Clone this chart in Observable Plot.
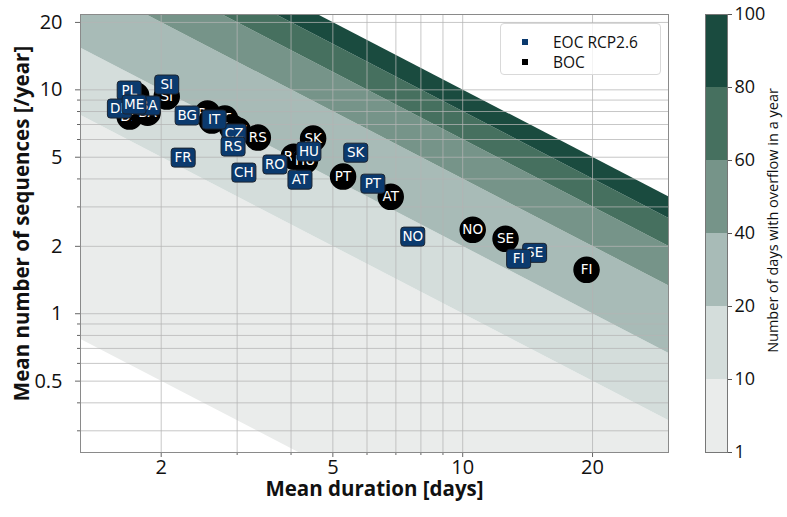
<!DOCTYPE html>
<html>
<head>
<meta charset="utf-8">
<script src="https://cdn.jsdelivr.net/npm/d3@7"></script>
<script src="https://cdn.jsdelivr.net/npm/@observablehq/plot@0.6"></script>
<style>
  body { margin: 0; background: white; }
  #wrap { position: relative; width: 787px; height: 517px; display: flex; flex-direction: row; }
  #legend { position: absolute; left: 500px; top: 23px; width: 159px; height: 50px; border: 1px solid #d9d9d9; border-radius: 4px; background: rgba(255,255,255,0.8); font-family: "Open Sans", sans-serif; font-size: 15.5px; color: #111; }
  .lrow { position: absolute; left: 0; height: 20px; line-height: 20px; }
  .lmark { position: absolute; left: 21px; top: 7px; width: 6px; height: 6px; }
  .ltext { position: absolute; left: 52px; top: 0; white-space: nowrap; }
</style>
</head>
<body>
<div id="wrap">
  <div id="main"></div>
  <div id="cbar"></div>
  <div id="legend">
    <div class="lrow" style="top:8px"><div class="lmark" style="background:#0b3a6e"></div><div class="ltext">EOC RCP2.6</div></div>
    <div class="lrow" style="top:28px"><div class="lmark" style="background:#000"></div><div class="ltext">BOC</div></div>
  </div>
</div>
<script>
// ---- Data ----
// BOC (black circles)
const bocCountry  = ["DE","PL","ME","BA","SI","BG","FR","IT","CH","CZ","RS","RO","HU","SK","PT","AT","NO","SE","FI"];
const bocDuration = [1.69,1.75,1.79,1.86,2.06,2.56,2.62,2.81,2.92,3.01,3.35,4.06,4.31,4.50,5.28,6.81,10.55,12.57,19.37];
const bocSequences= [7.60,9.43,8.08,7.91,9.33,7.83,7.29,7.44,6.78,6.58,6.12,5.03,4.83,6.06,4.10,3.33,2.37,2.16,1.57];

// EOC RCP2.6 (blue rounded squares)
const eocCountry  = ["FR","CH","CZ","RS","SI","PL","DE","BA","ME","BG","IT","RO","AT","HU","SK","PT","NO","SE","FI"];
const eocDuration = [2.249,3.11,2.951,2.935,2.06,1.686,1.60,1.866,1.731,2.297,2.653,3.67,4.195,4.40,5.65,6.19,7.66,14.68,13.48];
const eocSequences= [4.98,4.27,6.38,5.58,10.56,9.93,8.25,8.51,8.60,7.68,7.37,4.64,3.97,5.30,5.24,3.81,2.21,1.87,1.76];

// Background bands: days with overflow per year = sequences * duration
const bandThresholds = [1, 10, 20, 40, 60, 80, 100];
const bandColors = ["#eaeceb", "#d4dddb", "#a8bbb7", "#769489", "#46705f", "#1a4b3f"];

// Axes
const xDomain = [1.3, 30];
const yDomain = [0.24, 21.7];
const xMajor = [2, 5, 10, 20];
const xGrid  = [2, 3, 4, 5, 6, 7, 8, 9, 10, 20];
const yMajor = [0.5, 1, 2, 5, 10, 20];
const yGrid  = [0.3, 0.4, 0.5, 0.6, 0.7, 0.8, 0.9, 1, 2, 3, 4, 5, 6, 7, 8, 9, 10, 20];

// ---- Marks ----
const roundRect = {
  draw(ctx) {
    const w = 12, h = 9.5, r = 3;
    ctx.moveTo(-w + r, -h);
    ctx.lineTo(w - r, -h);
    ctx.arcTo(w, -h, w, -h + r, r);
    ctx.lineTo(w, h - r);
    ctx.arcTo(w, h, w - r, h, r);
    ctx.lineTo(-w + r, h);
    ctx.arcTo(-w, h, -w, h - r, r);
    ctx.lineTo(-w, -h + r);
    ctx.arcTo(-w, -h, -w + r, -h, r);
    ctx.closePath();
  }
};

const marks = [];
// bands
for (let i = 0; i < bandColors.length; i++) {
  const lo = bandThresholds[i], hi = bandThresholds[i + 1];
  marks.push(Plot.areaY(xDomain, {x: d => d, y1: d => lo / d, y2: d => hi / d, fill: bandColors[i], clip: true}));
}
// grid
marks.push(Plot.gridX(xGrid, {stroke: "#b4b4b4", strokeOpacity: 0.75, strokeWidth: 1}));
marks.push(Plot.gridY(yGrid, {stroke: "#b4b4b4", strokeOpacity: 0.75, strokeWidth: 1}));
// axes
marks.push(Plot.axisX(xMajor, {tickSize: 5, tickPadding: 2, fontSize: 20, tickFormat: d => String(d), label: null, stroke: "#666"}));
marks.push(Plot.axisX(xGrid.filter(d => !xMajor.includes(d)), {tickSize: 3, tickFormat: () => "", label: null, stroke: "#666"}));
marks.push(Plot.axisY(yMajor, {tickSize: 5, tickPadding: 13, fontSize: 20, tickFormat: d => String(d), label: null, stroke: "#666"}));
marks.push(Plot.axisY(yGrid.filter(d => !yMajor.includes(d)), {tickSize: 3, tickFormat: () => "", label: null, stroke: "#666"}));
marks.push(Plot.frame({stroke: "#8a8a8a"}));
// BOC circles
bocCountry.forEach((c, i) => {
  marks.push(Plot.dot([i], {x: j => bocDuration[j], y: j => bocSequences[j], r: 12.5, fill: "#000", stroke: "#000"}));
  marks.push(Plot.text([i], {x: j => bocDuration[j], y: j => bocSequences[j], text: j => bocCountry[j], fill: "white", fontSize: 13.5, fontFamily: "DejaVu Sans"}));
});
// EOC squares
eocCountry.forEach((c, i) => {
  marks.push(Plot.dot([i], {x: j => eocDuration[j], y: j => eocSequences[j], symbol: roundRect, fill: "#0b3a6e", stroke: "#1c2430", strokeWidth: 1}));
  marks.push(Plot.text([i], {x: j => eocDuration[j], y: j => eocSequences[j], text: j => eocCountry[j], fill: "white", fontSize: 13.5, fontFamily: "DejaVu Sans"}));
});
// axis titles
marks.push(Plot.text(["Mean duration [days]"], {frameAnchor: "bottom", textAnchor: "middle", dy: 43, fontSize: 20.5, fontWeight: 700, fill: "#111"}));
marks.push(Plot.text(["Mean number of sequences [/year]"], {frameAnchor: "left", textAnchor: "middle", dx: -58, dy: -10, rotate: -90, fontSize: 20.5, fontWeight: 700, fill: "#111"}));

const main = Plot.plot({
  width: 690,
  height: 517,
  marginLeft: 80,
  marginRight: 22,
  marginTop: 14,
  marginBottom: 65,
  style: {fontFamily: "'Open Sans', sans-serif", color: "#111", background: "white"},
  x: {type: "log", domain: xDomain, axis: null},
  y: {type: "log", domain: yDomain, axis: null},
  marks
});
document.getElementById("main").appendChild(main);

// ---- Colorbar ----
const cb = Plot.plot({
  width: 97,
  height: 517,
  marginLeft: 15,
  marginRight: 60,
  marginTop: 14,
  marginBottom: 65,
  style: {fontFamily: "'Open Sans', sans-serif", color: "#111", background: "white"},
  x: {domain: [0, 1], axis: null},
  y: {domain: [0, bandColors.length], axis: null},
  marks: [
    Plot.rect(bandColors.map((c, i) => i), {x1: () => 0, x2: () => 1, y1: i => i, y2: i => i + 1, fill: i => bandColors[i]}),
    Plot.frame({stroke: "#777"}),
    Plot.axisY(d3.range(bandThresholds.length), {anchor: "right", tickSize: 4, tickPadding: 3, fontSize: 18, tickFormat: i => String(bandThresholds[i]), label: null, stroke: "#555"}),
    Plot.text(["Number of days with overflow in a year"], {frameAnchor: "right", textAnchor: "middle", dx: 46, dy: -13, rotate: -90, fontSize: 14.5, fill: "#111"})
  ]
});
document.getElementById("cbar").appendChild(cb);
</script>
</body>
</html>
